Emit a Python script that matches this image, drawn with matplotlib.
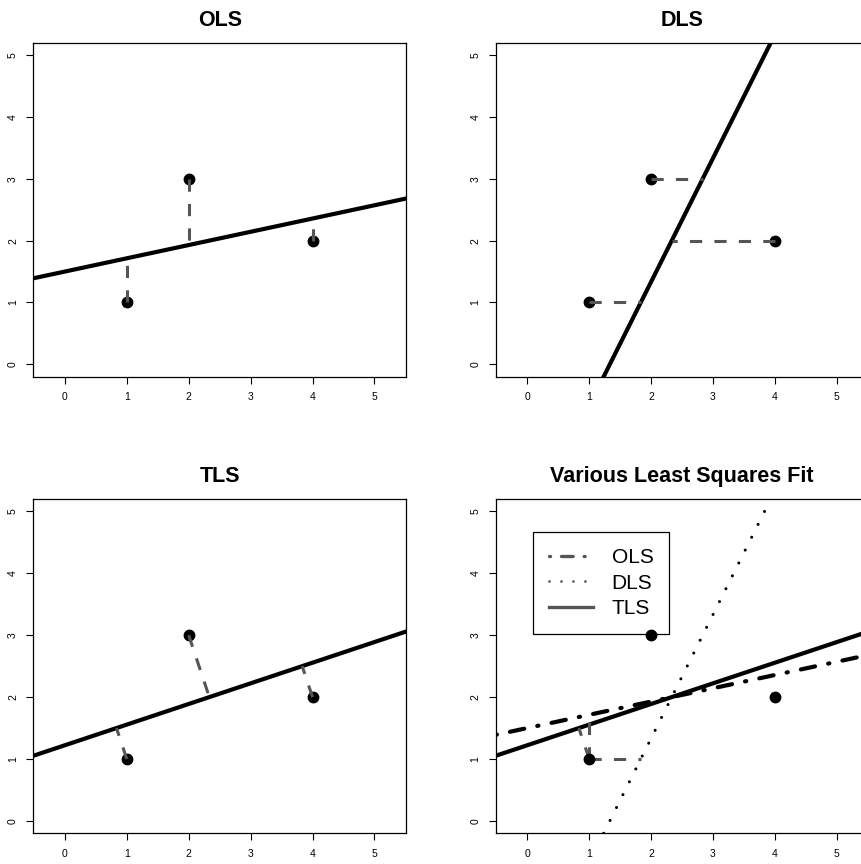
import numpy as np
import matplotlib
matplotlib.use('Agg')
import matplotlib.pyplot as plt
from matplotlib.lines import Line2D

plt.rcParams['font.family'] = ['Liberation Sans', 'DejaVu Sans']

# data points
x = np.array([1, 2, 4])
y = np.array([1, 3, 2])
ticks = [0, 1, 2, 3, 4, 5]
titles = ['OLS', 'DLS', 'TLS', 'Various Least Squares Fit']
legend_labels = ['OLS', 'DLS', 'TLS']

W, H = 861, 864
LINE_W = 3.0
RES_W = 2.2
RES_COL = '#555555'
DASH = (0, (4, 4))
DOTDASH = (0, (0.3, 3.2, 3.5, 3.2))
DOTTED = (0, (0.01, 4.7))


def ols_fit(x, y):
    b, a = np.polyfit(x, y, 1)
    return a, b


def dls_fit(x, y):
    # regress x on y, then flip to y = a + b x
    d, c = np.polyfit(y, x, 1)
    return -c / d, 1 / d


def tls_fit(x, y):
    xm, ym = x.mean(), y.mean()
    cov = np.cov(np.vstack([x - xm, y - ym]))
    vals, vecs = np.linalg.eigh(cov)
    v = vecs[:, np.argmax(vals)]
    b = v[1] / v[0]
    return ym - b * xm, b


def ols_foot(xi, yi, a, b):
    return xi, a + b * xi


def dls_foot(xi, yi, a, b):
    return (yi - a) / b, yi


def tls_foot(xi, yi, a, b):
    t = (xi + b * (yi - a)) / (1 + b * b)
    return t, a + b * t


def px_box(l, t, r, b):
    return [l / W, 1 - b / H, (r - l) / W, (b - t) / H]


def setup(ax, title):
    ax.set_xlim(-0.51, 5.51)
    ax.set_ylim(-0.2, 5.2)
    ax.set_xticks(ticks)
    ax.set_yticks(ticks)
    ax.tick_params(length=5, width=0.8, pad=6, labelsize=7.5, direction='out')
    for lab in ax.get_yticklabels():
        lab.set_rotation(90)
        lab.set_va('center')
    for s in ax.spines.values():
        s.set_linewidth(0.9)
        s.set_color('black')
    ax.set_title(title, fontsize=15.5, fontweight='bold', pad=12)


def residuals(ax, idx, a, b, foot):
    for i in idx:
        xf, yf = foot(x[i], y[i], a, b)
        ax.plot([x[i], xf], [y[i], yf], color=RES_COL, lw=RES_W, linestyle=DASH,
                zorder=4)


fits = [ols_fit(x, y), dls_fit(x, y), tls_fit(x, y)]
foots = [ols_foot, dls_foot, tls_foot]

fig = plt.figure(figsize=(W / 100, H / 100), dpi=100)
boxes = [px_box(33.3, 42.7, 406, 376.7), px_box(495.7, 42.7, 868.4, 376.7),
         px_box(33.3, 499, 406, 833.3), px_box(495.7, 499, 868.4, 833.3)]
axes = [fig.add_axes(bx) for bx in boxes]

# single fit panels
for k in range(3):
    ax = axes[k]
    a, b = fits[k]
    ax.plot(x, y, 'o', color='black', ms=7.5, zorder=3)
    ax.axline((0, a), slope=b, color='black', lw=LINE_W, zorder=2)
    residuals(ax, range(len(x)), a, b, foots[k])
    setup(ax, titles[k])

# all three fits together
ax = axes[3]
ax.plot(x, y, 'o', color='black', ms=7.5, zorder=6)
styles = [DOTDASH, DOTTED, '-']
widths = [LINE_W, 2.2, LINE_W]
for k in range(3):
    a, b = fits[k]
    ax.axline((0, a), slope=b, color='black', lw=widths[k],
              linestyle=styles[k], dash_capstyle='round', zorder=2)
for k in range(3):
    a, b = fits[k]
    residuals(ax, [0], a, b, foots[k])
setup(ax, titles[3])

handles = [Line2D([], [], color=RES_COL, lw=2.4, linestyle=(0, (0.3, 3.3, 3.5, 3.3)),
                  dash_capstyle='round'),
           Line2D([], [], color=RES_COL, lw=2.0, linestyle=(0, (0.01, 4.3)),
                  dash_capstyle='round'),
           Line2D([], [], color=RES_COL, lw=2.4)]
leg = ax.legend(handles, legend_labels, loc='upper left', bbox_to_anchor=(0.1, 4.66),
                bbox_transform=ax.transData, borderaxespad=0, fontsize=15,
                handlelength=2.1, handletextpad=0.9, borderpad=0.75, labelspacing=0.32,
                fancybox=False, framealpha=1, edgecolor='black')
leg.get_frame().set_linewidth(0.9)
leg.set_zorder(5)

fig.savefig('out.png', dpi=100)
